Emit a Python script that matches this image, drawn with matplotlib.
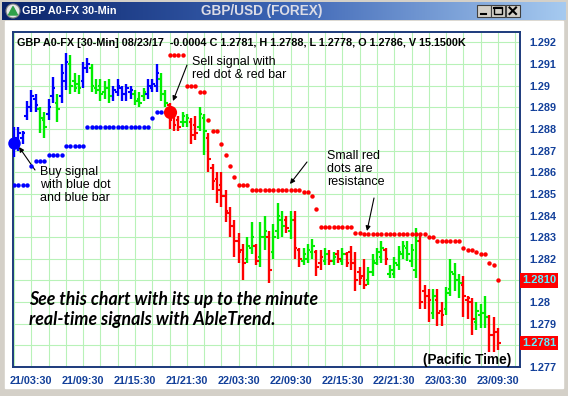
import numpy as np
import pandas as pd
import matplotlib.pyplot as plt
from matplotlib.patches import Rectangle, Circle, Polygon
from matplotlib.colors import LinearSegmentedColormap
import matplotlib.transforms as mtransforms

plt.rcParams['font.family'] = ['Liberation Sans', 'DejaVu Sans']

###
### Data: GBP/USD 30-min bars, first bar 21/01:30
###
bar_high = [1.2881, 1.2881, 1.2879, 1.2893, 1.2898, 1.2896, 1.2890, 1.2888, 1.2894, 1.2904,
            1.2896, 1.2910, 1.2915, 1.2914, 1.2906, 1.2905, 1.2911, 1.2913, 1.2910, 1.2903,
            1.2903, 1.2902, 1.2903, 1.2900, 1.2903, 1.2900, 1.2901, 1.2900, 1.2898, 1.2897,
            1.2899, 1.2903, 1.2903, 1.2910, 1.2906, 1.2898, 1.2892, 1.2889, 1.2886, 1.2888,
            1.2887, 1.2885, 1.2886, 1.2890, 1.2887, 1.2878, 1.2864, 1.2860, 1.2860, 1.2852,
            1.2844, 1.2838, 1.2832, 1.2827, 1.2830, 1.2837, 1.2827, 1.2837, 1.2840, 1.2833,
            1.2836, 1.2846, 1.2842, 1.2840, 1.2842, 1.2842, 1.2825, 1.2825, 1.2827, 1.2829,
            1.2824, 1.2824, 1.2825, 1.2824, 1.2823, 1.2824, 1.2825, 1.2823, 1.2826, 1.2823,
            1.2816, 1.2820, 1.2816, 1.2822, 1.2825, 1.2828, 1.2825, 1.2817, 1.2821, 1.2826,
            1.2828, 1.2828, 1.2827, 1.2834, 1.2832, 1.2808, 1.2806, 1.2806, 1.2806, 1.2800,
            1.2807, 1.2820, 1.2818, 1.2813, 1.2812, 1.2803, 1.2802, 1.2800, 1.2799, 1.2803,
            1.2794, 1.2793, 1.2788]
bar_low = [1.2867, 1.2870, 1.2873, 1.2884, 1.2888, 1.2888, 1.2878, 1.2876, 1.2884, 1.2892,
           1.2883, 1.2892, 1.2898, 1.2896, 1.2897, 1.2896, 1.2899, 1.2906, 1.2897, 1.2896,
           1.2893, 1.2894, 1.2892, 1.2893, 1.2895, 1.2893, 1.2893, 1.2894, 1.2891, 1.2890,
           1.2893, 1.2894, 1.2897, 1.2897, 1.2893, 1.2890, 1.2880, 1.2879, 1.2879, 1.2881,
           1.2881, 1.2873, 1.2875, 1.2879, 1.2868, 1.2860, 1.2852, 1.2846, 1.2844, 1.2837,
           1.2830, 1.2821, 1.2818, 1.2810, 1.2818, 1.2822, 1.2817, 1.2816, 1.2824, 1.2809,
           1.2820, 1.2829, 1.2830, 1.2832, 1.2829, 1.2820, 1.2816, 1.2817, 1.2818, 1.2820,
           1.2812, 1.2815, 1.2817, 1.2817, 1.2817, 1.2818, 1.2817, 1.2816, 1.2815, 1.2805,
           1.2808, 1.2806, 1.2808, 1.2812, 1.2817, 1.2818, 1.2817, 1.2811, 1.2811, 1.2815,
           1.2820, 1.2819, 1.2816, 1.2811, 1.2797, 1.2797, 1.2791, 1.2792, 1.2789, 1.2789,
           1.2794, 1.2803, 1.2805, 1.2802, 1.2793, 1.2792, 1.2785, 1.2787, 1.2788, 1.2788,
           1.2777, 1.2777, 1.2778]
bar_open = [1.2872, 1.2874, 1.2876, 1.2886, 1.2890, 1.2894, 1.2889, 1.2884, 1.2887, 1.2895,
            1.2892, 1.2895, 1.2902, 1.2910, 1.2902, 1.2901, 1.2902, 1.2908, 1.2908, 1.2899,
            1.2900, 1.2897, 1.2899, 1.2895, 1.2897, 1.2899, 1.2896, 1.2897, 1.2896, 1.2894,
            1.2895, 1.2896, 1.2899, 1.2900, 1.2903, 1.2896, 1.2891, 1.2887, 1.2884, 1.2883,
            1.2883, 1.2883, 1.2882, 1.2881, 1.2885, 1.2876, 1.2862, 1.2857, 1.2854, 1.2849,
            1.2841, 1.2835, 1.2828, 1.2824, 1.2820, 1.2825, 1.2826, 1.2821, 1.2830, 1.2830,
            1.2823, 1.2833, 1.2838, 1.2838, 1.2833, 1.2838, 1.2824, 1.2819, 1.2820, 1.2823,
            1.2823, 1.2818, 1.2819, 1.2822, 1.2819, 1.2822, 1.2819, 1.2822, 1.2823, 1.2818,
            1.2814, 1.2812, 1.2810, 1.2814, 1.2818, 1.2821, 1.2824, 1.2813, 1.2813, 1.2817,
            1.2822, 1.2825, 1.2819, 1.2815, 1.2828, 1.2805, 1.2803, 1.2795, 1.2801, 1.2796,
            1.2797, 1.2806, 1.2813, 1.2810, 1.2808, 1.2801, 1.2800, 1.2791, 1.2794, 1.2795,
            1.2793, 1.2785, 1.2786]
bar_close = [1.2876, 1.2878, 1.2878, 1.2890, 1.2895, 1.2891, 1.2885, 1.2881, 1.2890, 1.2899,
             1.2889, 1.2906, 1.2911, 1.2900, 1.2899, 1.2899, 1.2908, 1.2910, 1.2900, 1.2898,
             1.2896, 1.2899, 1.2895, 1.2898, 1.2900, 1.2896, 1.2899, 1.2898, 1.2893, 1.2892,
             1.2897, 1.2900, 1.2901, 1.2906, 1.2896, 1.2892, 1.2884, 1.2882, 1.2881, 1.2886,
             1.2885, 1.2877, 1.2878, 1.2887, 1.2879, 1.2866, 1.2856, 1.2852, 1.2849, 1.2842,
             1.2835, 1.2828, 1.2823, 1.2818, 1.2826, 1.2830, 1.2819, 1.2830, 1.2833, 1.2815,
             1.2830, 1.2840, 1.2835, 1.2834, 1.2838, 1.2825, 1.2820, 1.2822, 1.2824, 1.2826,
             1.2816, 1.2821, 1.2822, 1.2819, 1.2821, 1.2820, 1.2822, 1.2818, 1.2818, 1.2810,
             1.2811, 1.2808, 1.2814, 1.2819, 1.2823, 1.2825, 1.2820, 1.2815, 1.2818, 1.2823,
             1.2826, 1.2822, 1.2824, 1.2828, 1.2800, 1.2803, 1.2801, 1.2803, 1.2795, 1.2794,
             1.2804, 1.2814, 1.2810, 1.2809, 1.2803, 1.2802, 1.2792, 1.2796, 1.2795, 1.2793,
             1.2785, 1.2786, 1.2781]
# b = blue (buy trend), g = green (neutral), r = red (sell trend)
bar_trend = list("bbbbbbggbbgbbgggbbgggggbbbbbgggbbbggrrrggrrgg"
                 "rrrrrrrrrggrggrgggrgrrgggrrgrgrgrrrrrggggr"
                 "gggggggrrrgrrggggrrrgggrrr")

# small blue support dots, bars 0..34
support = [1.2854, 1.2854, 1.2854, 1.2854, 1.2863, 1.2865, 1.2865, 1.2865, 1.2868, 1.2868,
           1.2868, 1.2868, 1.2872, 1.2872, 1.2872, 1.2872, 1.2872, 1.2881, 1.2881, 1.2881,
           1.2881, 1.2881, 1.2881, 1.2881, 1.2881, 1.2881, 1.2881, 1.2881, 1.2881, 1.2881,
           1.2881, 1.2881, 1.2885, 1.2888, 1.2888]
# small red resistance dots, bars 36..112
resistance = [1.2914, 1.2914, 1.2914, 1.2914, 1.2900, 1.2900, 1.2900, 1.2897, 1.2897, 1.2884,
              1.2879, 1.2879, 1.2873, 1.2868, 1.2863, 1.2858, 1.2854, 1.2854, 1.2854, 1.2852,
              1.2852, 1.2852, 1.2852, 1.2852, 1.2852, 1.2852, 1.2852, 1.2852, 1.2852, 1.2852,
              1.2852, 1.2851, 1.2851, 1.2849, 1.2843, 1.28345, 1.28345, 1.28345, 1.28345, 1.28345,
              1.28345, 1.28345, 1.28345, 1.2832, 1.2832, 1.28315, 1.28315, 1.28315, 1.28315, 1.28315,
              1.28315, 1.28315, 1.28315, 1.28315, 1.28315, 1.28315, 1.28315, 1.28315, 1.28315, 1.28315,
              1.2830, 1.2830, 1.2828, 1.2828, 1.2828, 1.2828, 1.2828, 1.2828, 1.2825, 1.2824,
              1.2824, 1.2823, 1.2822, 1.2822, 1.2818, 1.2817, 1.2810]
support_start = 0
resistance_start = 36

buy_bar, buy_price = 0, 1.28735
sell_bar, sell_price = 36, 1.2888

last_close = 1.2781
last_resist = 1.2810

price_ticks = [1.277, 1.278, 1.279, 1.280, 1.281, 1.282, 1.283, 1.284,
               1.285, 1.286, 1.287, 1.288, 1.289, 1.290, 1.291, 1.292]

header = ("GBP A0-FX [30-Min] 08/23/17  -0.0004 C 1.2781, H 1.2788, "
          "L 1.2778, O 1.2786, V 15.1500K")

###
### Figure
###
W, H = 568, 396
trend_colors = {'b': '#0000ff', 'g': '#00ee00', 'r': '#ff0000'}
grid_color = '#b8f2b8'
label_color = '#13409a'

fig = plt.figure(figsize=(W / 100, H / 100), dpi=100)

# window chrome, drawn in pixel coordinates
bg = fig.add_axes([0, 0, 1, 1])
bg.set_xlim(0, W)
bg.set_ylim(H, 0)
bg.axis('off')
bg.add_patch(Rectangle((0, 0), W, H, color='#d4d0c8'))
bg.add_patch(Rectangle((5, 21), W - 10, 367, color='white'))
grad = np.linspace(0, 1, 256).reshape(1, -1)
title_cmap = LinearSegmentedColormap.from_list('tb', ['#0a246a', '#3c64b4', '#a6caf0'])
bg.imshow(grad, extent=(2, W - 2, 20, 2), aspect='auto', cmap=title_cmap, zorder=1)
bg.add_patch(Circle((13, 11), 7, facecolor='#e8e8e8', edgecolor='#808080', lw=0.8, zorder=2))
bg.add_patch(Polygon([(8.5, 15), (13, 6.5), (17.5, 15)], color='#2fa04a', zorder=3))
bg.text(22, 11.5, 'GBP A0-FX 30-Min', color='white', fontsize=7.8, fontweight='bold',
        va='center', ha='left', zorder=3)
bg.text(262, 11.5, 'GBP/USD (FOREX)', color='#dcdce6', fontsize=9.8, fontweight='bold',
        va='center', ha='center', zorder=3)
for bx, sym in [(477, 'min'), (491, 'max'), (506, 'close')]:
    bg.add_patch(Rectangle((bx, 4.5), 13.5, 12, facecolor='#d4d0c8', edgecolor='#404040',
                           lw=0.8, zorder=3))
    if sym == 'min':
        bg.plot([bx + 3.5, bx + 9], [13.5, 13.5], color='black', lw=1.5, zorder=4)
    elif sym == 'max':
        bg.add_patch(Rectangle((bx + 3, 7), 7.5, 7, fill=False, edgecolor='black', lw=1.0,
                               zorder=4))
        bg.plot([bx + 3, bx + 10.5], [7.5, 7.5], color='black', lw=1.5, zorder=4)
    else:
        bg.plot([bx + 3.5, bx + 10], [7.5, 14], color='black', lw=1.5, zorder=4)
        bg.plot([bx + 3.5, bx + 10], [14, 7.5], color='black', lw=1.5, zorder=4)

# price panel
ax = fig.add_axes([12.5 / W, 1 - 367 / H, (520 - 12.5) / W, (367 - 32) / H])
n = len(bar_high)
idx = np.arange(n)
times = pd.date_range('2017-08-21 01:30', periods=n, freq='30min')

for i in range(0, n + 5, 4):
    ax.axvline(i, color=grid_color, lw=0.8, zorder=0)
for p in price_ticks:
    ax.axhline(p, color=grid_color, lw=0.8, zorder=0)

cols = [trend_colors[t] for t in bar_trend]
ax.vlines(idx, bar_low, bar_high, colors=cols, lw=1.7, zorder=3)
ax.hlines(bar_open, idx - 0.6, idx, colors=cols, lw=1.5, zorder=3)
ax.hlines(bar_close, idx, idx + 0.6, colors=cols, lw=1.5, zorder=3)

sup_idx = np.arange(support_start, support_start + len(support))
res_idx = np.arange(resistance_start, resistance_start + len(resistance))
ax.plot(sup_idx, support, 'o', color='#0000ff', ms=3.2, mew=0, zorder=4)
ax.plot(res_idx, resistance, 'o', color='#ff0000', ms=3.2, mew=0, zorder=4)
ax.plot(buy_bar, buy_price, 'o', color='#0000ff', ms=9, mew=0, zorder=5, clip_on=False)
ax.plot(sell_bar, sell_price, 'o', color='#ff0000', ms=9.5, mew=0, zorder=5)

ax.set_xlim(-0.35, 117.1)
ax.set_ylim(1.277, 1.29248)

tick_pos = [i for i, t in enumerate(times) if t.minute == 30 and t.hour % 6 == 3]
ax.set_xticks(tick_pos)
ax.set_xticklabels([times[i].strftime('%d/%H:%M') for i in tick_pos])
ax.yaxis.tick_right()
ax.set_yticks(price_ticks)
ax.set_yticklabels(['' if p in (1.278, 1.281) else '{:g}'.format(p) for p in price_ticks])
ax.tick_params(axis='both', length=0, labelsize=7.8, labelcolor=label_color)
ax.tick_params(axis='y', pad=7)
ax.tick_params(axis='x', pad=6.5)
for lab in ax.get_xticklabels() + ax.get_yticklabels():
    lab.set_fontweight('bold')
for sp in ax.spines.values():
    sp.set_color('#1c3a7c')
    sp.set_linewidth(1.4)

# current price boxes on the right
trans = mtransforms.blended_transform_factory(ax.transAxes, ax.transData)
for val in (last_resist, last_close):
    ax.text(1.0035, val, '{:.4f}'.format(val), transform=trans, ha='left', va='center',
            fontsize=8, fontweight='bold', color='#5ff0ff', clip_on=False,
            bbox=dict(boxstyle='square,pad=0.2', facecolor='#ff0000', edgecolor='none'))

def fpos(x, y):
    return (x / W, 1 - y / H)

fig.text(*fpos(17, 46), header, fontsize=7.8, fontweight='bold', color='black',
         ha='left', va='baseline')

arrow = dict(arrowstyle='-|>', color='black', lw=0.8, mutation_scale=7, shrinkA=0, shrinkB=0)
ax.annotate('', xy=fpos(19, 147), xycoords='figure fraction',
            xytext=fpos(35, 170), textcoords='figure fraction', arrowprops=arrow)
fig.text(*fpos(40, 166), 'Buy signal\nwith blue dot\nand blue bar', fontsize=9,
         ha='left', va='top', linespacing=1.1)

ax.annotate('', xy=fpos(173, 101), xycoords='figure fraction',
            xytext=fpos(187, 65), textcoords='figure fraction', arrowprops=arrow)
fig.text(*fpos(192, 56), 'Sell signal with\nred dot & red bar', fontsize=9,
         ha='left', va='top', linespacing=1.1)

ax.annotate('', xy=fpos(290, 184), xycoords='figure fraction',
            xytext=fpos(307, 162), textcoords='figure fraction', arrowprops=arrow)
ax.annotate('', xy=fpos(367, 231), xycoords='figure fraction',
            xytext=fpos(374, 198), textcoords='figure fraction', arrowprops=arrow)
fig.text(*fpos(327, 150), 'Small red\ndots are\nresistance', fontsize=9,
         ha='left', va='top', linespacing=1.1)

fig.text(*fpos(29, 291), 'See this chart with its up to the minute\nreal-time signals with AbleTrend.',
         family=['Lato', 'DejaVu Sans'], fontsize=12.8, fontweight='bold', style='italic',
         ha='left', va='top', linespacing=1.2)

fig.text(*fpos(423, 364), '(Pacific Time)', fontsize=9.8, fontweight='bold',
         ha='left', va='baseline')

fig.savefig('out.png', dpi=100)
